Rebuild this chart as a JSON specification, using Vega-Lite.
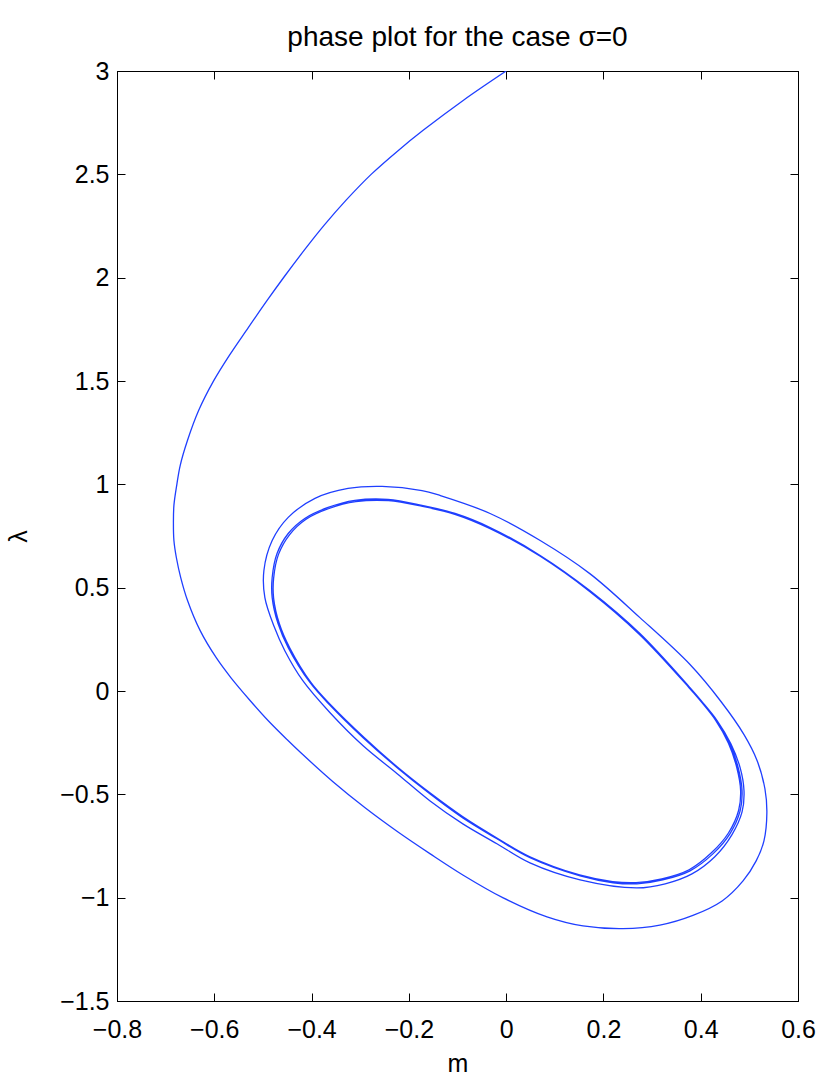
{
  "$schema": "https://vega.github.io/schema/vega-lite/v6.json",
  "autosize": {"type": "none"},
  "padding": {"left": 117, "top": 71, "right": 32, "bottom": 83},
  "width": 681,
  "height": 930,
  "background": "white",
  "title": {"text": "phase plot for the case σ=0", "font": "Liberation Sans", "fontSize": 28, "fontWeight": "normal", "color": "black", "frame": "group", "anchor": "middle", "offset": 7},
  "config": {
    "view": {"stroke": "black", "strokeWidth": 1},
    "axis": {"grid": false, "domainColor": "black", "tickColor": "black", "labelColor": "black", "titleColor": "black", "labelFont": "Liberation Sans", "titleFont": "Liberation Sans", "labelFontSize": 25, "titleFontSize": 25, "titleFontWeight": "normal", "labelFlush": false, "labelOverlap": false, "tickSize": -8, "domainWidth": 1, "tickWidth": 1}
  },
  "data": {"values": [
    {"i": 1, "m": 0.000, "lambda": 3.000},
    {"i": 2, "m": -0.087, "lambda": 2.860},
    {"i": 3, "m": -0.170, "lambda": 2.714},
    {"i": 4, "m": -0.221, "lambda": 2.617},
    {"i": 5, "m": -0.277, "lambda": 2.501},
    {"i": 6, "m": -0.329, "lambda": 2.375},
    {"i": 7, "m": -0.374, "lambda": 2.254},
    {"i": 8, "m": -0.415, "lambda": 2.133},
    {"i": 9, "m": -0.457, "lambda": 2.002},
    {"i": 10, "m": -0.491, "lambda": 1.891},
    {"i": 11, "m": -0.534, "lambda": 1.745},
    {"i": 12, "m": -0.569, "lambda": 1.624},
    {"i": 13, "m": -0.602, "lambda": 1.498},
    {"i": 14, "m": -0.632, "lambda": 1.358},
    {"i": 15, "m": -0.655, "lambda": 1.213},
    {"i": 16, "m": -0.670, "lambda": 1.092},
    {"i": 17, "m": -0.677, "lambda": 0.999},
    {"i": 18, "m": -0.683, "lambda": 0.898},
    {"i": 19, "m": -0.684, "lambda": 0.815},
    {"i": 20, "m": -0.683, "lambda": 0.728},
    {"i": 21, "m": -0.678, "lambda": 0.646},
    {"i": 22, "m": -0.669, "lambda": 0.549},
    {"i": 23, "m": -0.655, "lambda": 0.438},
    {"i": 24, "m": -0.629, "lambda": 0.292},
    {"i": 25, "m": -0.596, "lambda": 0.161},
    {"i": 26, "m": -0.566, "lambda": 0.065},
    {"i": 27, "m": -0.526, "lambda": -0.047},
    {"i": 28, "m": -0.489, "lambda": -0.144},
    {"i": 29, "m": -0.450, "lambda": -0.236},
    {"i": 30, "m": -0.422, "lambda": -0.299},
    {"i": 31, "m": -0.356, "lambda": -0.439},
    {"i": 32, "m": -0.290, "lambda": -0.565},
    {"i": 33, "m": -0.223, "lambda": -0.681},
    {"i": 34, "m": -0.156, "lambda": -0.788},
    {"i": 35, "m": -0.089, "lambda": -0.890},
    {"i": 36, "m": -0.006, "lambda": -1.001},
    {"i": 37, "m": 0.084, "lambda": -1.093},
    {"i": 38, "m": 0.158, "lambda": -1.137},
    {"i": 39, "m": 0.240, "lambda": -1.150},
    {"i": 40, "m": 0.316, "lambda": -1.133},
    {"i": 41, "m": 0.384, "lambda": -1.086},
    {"i": 42, "m": 0.444, "lambda": -1.016},
    {"i": 43, "m": 0.487, "lambda": -0.919},
    {"i": 44, "m": 0.514, "lambda": -0.822},
    {"i": 45, "m": 0.530, "lambda": -0.725},
    {"i": 46, "m": 0.536, "lambda": -0.589},
    {"i": 47, "m": 0.532, "lambda": -0.473},
    {"i": 48, "m": 0.516, "lambda": -0.337},
    {"i": 49, "m": 0.489, "lambda": -0.211},
    {"i": 50, "m": 0.442, "lambda": -0.052},
    {"i": 51, "m": 0.378, "lambda": 0.128},
    {"i": 52, "m": 0.275, "lambda": 0.355},
    {"i": 53, "m": 0.172, "lambda": 0.568},
    {"i": 54, "m": 0.070, "lambda": 0.728},
    {"i": 55, "m": -0.033, "lambda": 0.859},
    {"i": 56, "m": -0.136, "lambda": 0.946},
    {"i": 57, "m": -0.173, "lambda": 0.970},
    {"i": 58, "m": -0.255, "lambda": 0.990},
    {"i": 59, "m": -0.325, "lambda": 0.980},
    {"i": 60, "m": -0.393, "lambda": 0.932},
    {"i": 61, "m": -0.448, "lambda": 0.840},
    {"i": 62, "m": -0.481, "lambda": 0.728},
    {"i": 63, "m": -0.498, "lambda": 0.583},
    {"i": 64, "m": -0.496, "lambda": 0.452},
    {"i": 65, "m": -0.477, "lambda": 0.312},
    {"i": 66, "m": -0.455, "lambda": 0.195},
    {"i": 67, "m": -0.418, "lambda": 0.050},
    {"i": 68, "m": -0.362, "lambda": -0.105},
    {"i": 69, "m": -0.294, "lambda": -0.265},
    {"i": 70, "m": -0.224, "lambda": -0.400},
    {"i": 71, "m": -0.157, "lambda": -0.531},
    {"i": 72, "m": -0.089, "lambda": -0.643},
    {"i": 73, "m": -0.019, "lambda": -0.739},
    {"i": 74, "m": 0.049, "lambda": -0.832},
    {"i": 75, "m": 0.152, "lambda": -0.914},
    {"i": 76, "m": 0.269, "lambda": -0.953},
    {"i": 77, "m": 0.327, "lambda": -0.933},
    {"i": 78, "m": 0.382, "lambda": -0.885},
    {"i": 79, "m": 0.429, "lambda": -0.802},
    {"i": 80, "m": 0.464, "lambda": -0.696},
    {"i": 81, "m": 0.485, "lambda": -0.585},
    {"i": 82, "m": 0.489, "lambda": -0.483},
    {"i": 83, "m": 0.481, "lambda": -0.371},
    {"i": 84, "m": 0.462, "lambda": -0.255},
    {"i": 85, "m": 0.434, "lambda": -0.144},
    {"i": 86, "m": 0.401, "lambda": -0.047},
    {"i": 87, "m": 0.378, "lambda": 0.016},
    {"i": 88, "m": 0.275, "lambda": 0.278},
    {"i": 89, "m": 0.172, "lambda": 0.486},
    {"i": 90, "m": 0.070, "lambda": 0.656},
    {"i": 91, "m": -0.033, "lambda": 0.791},
    {"i": 92, "m": -0.105, "lambda": 0.859},
    {"i": 93, "m": -0.173, "lambda": 0.898},
    {"i": 94, "m": -0.243, "lambda": 0.927},
    {"i": 95, "m": -0.311, "lambda": 0.922},
    {"i": 96, "m": -0.366, "lambda": 0.888},
    {"i": 97, "m": -0.414, "lambda": 0.835},
    {"i": 98, "m": -0.448, "lambda": 0.762},
    {"i": 99, "m": -0.471, "lambda": 0.665},
    {"i": 100, "m": -0.481, "lambda": 0.549},
    {"i": 101, "m": -0.481, "lambda": 0.452},
    {"i": 102, "m": -0.469, "lambda": 0.326},
    {"i": 103, "m": -0.448, "lambda": 0.210},
    {"i": 104, "m": -0.403, "lambda": 0.040},
    {"i": 105, "m": -0.362, "lambda": -0.069},
    {"i": 106, "m": -0.294, "lambda": -0.226},
    {"i": 107, "m": -0.224, "lambda": -0.371},
    {"i": 108, "m": -0.157, "lambda": -0.497},
    {"i": 109, "m": -0.089, "lambda": -0.614},
    {"i": 110, "m": -0.019, "lambda": -0.715},
    {"i": 111, "m": 0.049, "lambda": -0.807},
    {"i": 112, "m": 0.152, "lambda": -0.895},
    {"i": 113, "m": 0.220, "lambda": -0.928},
    {"i": 114, "m": 0.269, "lambda": -0.933},
    {"i": 115, "m": 0.322, "lambda": -0.914},
    {"i": 116, "m": 0.378, "lambda": -0.870},
    {"i": 117, "m": 0.425, "lambda": -0.788},
    {"i": 118, "m": 0.460, "lambda": -0.691},
    {"i": 119, "m": 0.481, "lambda": -0.580},
    {"i": 120, "m": 0.485, "lambda": -0.483},
    {"i": 121, "m": 0.477, "lambda": -0.371},
    {"i": 122, "m": 0.460, "lambda": -0.255},
    {"i": 123, "m": 0.434, "lambda": -0.144},
    {"i": 124, "m": 0.376, "lambda": 0.016},
    {"i": 125, "m": 0.273, "lambda": 0.276},
    {"i": 126, "m": 0.171, "lambda": 0.483},
    {"i": 127, "m": 0.070, "lambda": 0.652},
    {"i": 128, "m": -0.033, "lambda": 0.786},
    {"i": 129, "m": -0.104, "lambda": 0.854},
    {"i": 130, "m": -0.172, "lambda": 0.893},
    {"i": 131, "m": -0.242, "lambda": 0.921},
    {"i": 132, "m": -0.309, "lambda": 0.916},
    {"i": 133, "m": -0.364, "lambda": 0.883},
    {"i": 134, "m": -0.412, "lambda": 0.830},
    {"i": 135, "m": -0.445, "lambda": 0.757},
    {"i": 136, "m": -0.468, "lambda": 0.661},
    {"i": 137, "m": -0.478, "lambda": 0.546},
    {"i": 138, "m": -0.478, "lambda": 0.449},
    {"i": 139, "m": -0.466, "lambda": 0.324},
    {"i": 140, "m": -0.445, "lambda": 0.209},
    {"i": 141, "m": -0.401, "lambda": 0.040},
    {"i": 142, "m": -0.360, "lambda": -0.069},
    {"i": 143, "m": -0.292, "lambda": -0.225},
    {"i": 144, "m": -0.223, "lambda": -0.369},
    {"i": 145, "m": -0.156, "lambda": -0.494},
    {"i": 146, "m": -0.088, "lambda": -0.610},
    {"i": 147, "m": -0.019, "lambda": -0.711},
    {"i": 148, "m": 0.049, "lambda": -0.802},
    {"i": 149, "m": 0.151, "lambda": -0.890},
    {"i": 150, "m": 0.219, "lambda": -0.922},
    {"i": 151, "m": 0.267, "lambda": -0.927},
    {"i": 152, "m": 0.320, "lambda": -0.909},
    {"i": 153, "m": 0.376, "lambda": -0.865},
    {"i": 154, "m": 0.422, "lambda": -0.783},
    {"i": 155, "m": 0.457, "lambda": -0.687},
    {"i": 156, "m": 0.478, "lambda": -0.577},
    {"i": 157, "m": 0.482, "lambda": -0.480},
    {"i": 158, "m": 0.474, "lambda": -0.369},
    {"i": 159, "m": 0.457, "lambda": -0.253},
    {"i": 160, "m": 0.431, "lambda": -0.143},
    {"i": 161, "m": 0.376, "lambda": 0.016}
  ]},
  "layer": [
    {
      "mark": {"type": "line", "color": "#1f3fff", "strokeWidth": 1.3, "interpolate": "catmull-rom", "clip": true},
      "encoding": {
        "x": {"field": "m", "type": "quantitative", "scale": {"domain": [-0.8, 0.6], "nice": false, "zero": false},
              "axis": {"orient": "bottom", "values": [-0.8, -0.6, -0.4, -0.2, 0, 0.2, 0.4, 0.6], "format": "~g", "labelPadding": 24, "title": "m", "titlePadding": 9}},
        "y": {"field": "lambda", "type": "quantitative", "scale": {"domain": [-1.5, 3], "nice": false, "zero": false},
              "axis": {"orient": "left", "values": [-1.5, -1, -0.5, 0, 0.5, 1, 1.5, 2, 2.5, 3], "format": "~g", "labelPadding": 16, "title": "λ", "titlePadding": 28}},
        "order": {"field": "i", "type": "quantitative"}
      }
    },
    {
      "mark": {"type": "line", "strokeOpacity": 0},
      "encoding": {
        "x": {"field": "m", "type": "quantitative", "scale": {"domain": [-0.8, 0.6], "nice": false, "zero": false},
              "axis": {"orient": "top", "values": [-0.8, -0.6, -0.4, -0.2, 0, 0.2, 0.4, 0.6], "labels": false, "title": null}},
        "y": {"field": "lambda", "type": "quantitative", "scale": {"domain": [-1.5, 3], "nice": false, "zero": false},
              "axis": {"orient": "right", "values": [-1.5, -1, -0.5, 0, 0.5, 1, 1.5, 2, 2.5, 3], "labels": false, "title": null}},
        "order": {"field": "i", "type": "quantitative"}
      }
    }
  ],
  "resolve": {"axis": {"x": "independent", "y": "independent"}}
}
